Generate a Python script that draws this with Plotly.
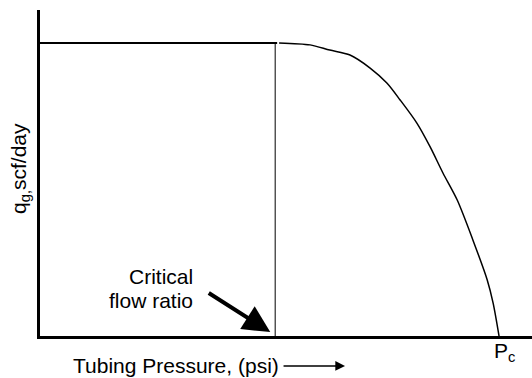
import plotly.graph_objects as go

# Gas rate vs tubing pressure (arbitrary, normalised units)
q_max = 89.9          # rate on the flat (critical-flow) part
p_crit = 47.8         # pressure where critical flow ends
p_flat_end = 48.2     # end of the flat segment
pc = 93.3             # pressure at which rate falls to zero

curve_pressure = [48.6, 54.9, 58.9, 63.0, 67.1, 70.5, 73.2, 76.6, 79.3,
                  81.9, 84.8, 88.0, 90.9, 92.1, 93.3]
curve_rate = [89.9, 89.3, 87.7, 86.2, 82.2, 77.6, 72.4, 65.3, 58.0,
              50.0, 41.7, 29.4, 17.2, 10.1, 0.0]

FONT = "Liberation Sans, Arial, Helvetica, sans-serif"

fig = go.Figure()

# flat critical-flow rate
fig.add_trace(go.Scatter(x=[0, p_flat_end], y=[q_max, q_max], mode="lines",
                         line=dict(color="black", width=2), hoverinfo="skip"))
# boundary at the critical flow ratio
fig.add_trace(go.Scatter(x=[p_crit, p_crit], y=[0, q_max], mode="lines",
                         line=dict(color="black", width=1), hoverinfo="skip"))
# subcritical decline down to Pc
fig.add_trace(go.Scatter(x=curve_pressure, y=curve_rate, mode="lines",
                         line=dict(color="black", width=1.5, shape="spline",
                                   smoothing=0.8),
                         hoverinfo="skip"))

annotations = [
    dict(x=-0.041, y=0.515, xref="paper", yref="paper",
         xanchor="center", yanchor="middle",
         text="q<sub>g,</sub>scf/day", textangle=-90, showarrow=False,
         font=dict(size=21)),
    dict(x=31.5, y=18.1, xref="x", yref="y", text="Critical", xanchor="right",
         yanchor="middle", showarrow=False, font=dict(size=21)),
    dict(x=31.5, y=11.0, xref="x", yref="y", text="flow ratio", xanchor="right",
         yanchor="middle", showarrow=False, font=dict(size=21)),
    # arrow pointing at the critical flow ratio
    dict(x=46.8, y=1.2, xref="x", yref="y", text="", showarrow=True,
         ax=-63, ay=-40, arrowhead=2, arrowwidth=4, arrowsize=1.35,
         arrowcolor="black"),
    dict(x=0.276, y=-0.089, xref="paper", yref="paper",
         xanchor="center", yanchor="middle",
         text="Tubing Pressure, (psi)", showarrow=False, font=dict(size=21)),
    dict(x=0.620, y=-0.092, xref="paper", yref="paper", text="", showarrow=True,
         ax=-63, ay=0, arrowhead=2, arrowwidth=1.5,
         arrowsize=1.3, arrowcolor="black"),
    dict(x=0.919, y=-0.004, xref="paper", yref="paper", text="P<sub>c</sub>",
         xanchor="left", yanchor="top", showarrow=False, font=dict(size=21)),
]

fig.update_layout(
    width=532, height=378,
    margin=dict(l=40, r=0, t=10, b=42),
    paper_bgcolor="white", plot_bgcolor="white",
    showlegend=False,
    font=dict(family=FONT, color="black"),
    annotations=annotations,
    xaxis=dict(range=[0, 100], showgrid=False, zeroline=False,
               showticklabels=False, ticks="", showline=True,
               linecolor="black", linewidth=3),
    yaxis=dict(range=[0, 100], showgrid=False, zeroline=False,
               showticklabels=False, ticks="", showline=True,
               linecolor="black", linewidth=3),
)

fig.write_html("out.html")
